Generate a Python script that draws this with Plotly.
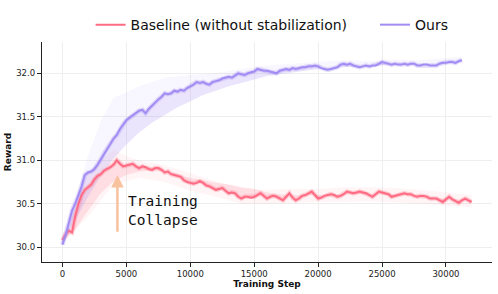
import plotly.graph_objects as go

STEP = 250

baseline_values = [
    30.08, 30.15, 30.19, 30.17, 30.36, 30.50, 30.60, 30.66, 30.69, 30.72,
    30.78, 30.82, 30.84, 30.88, 30.90, 30.92, 30.95, 31.00, 30.96, 30.93,
    30.94, 30.95, 30.96, 30.93, 30.91, 30.93, 30.92, 30.90, 30.89, 30.91,
    30.91, 30.89, 30.86, 30.87, 30.84, 30.83, 30.82, 30.81, 30.77, 30.75,
    30.74, 30.73, 30.74, 30.76, 30.74, 30.71, 30.70, 30.68, 30.66, 30.67,
    30.68, 30.65, 30.62, 30.63, 30.62, 30.58, 30.56, 30.58, 30.58, 30.57,
    30.58, 30.60, 30.62, 30.59, 30.56, 30.58, 30.59, 30.58, 30.56, 30.54,
    30.58, 30.62, 30.57, 30.54, 30.56, 30.59, 30.60, 30.62, 30.64, 30.60,
    30.56, 30.57, 30.59, 30.60, 30.61, 30.60, 30.58, 30.59, 30.61, 30.64,
    30.63, 30.62, 30.63, 30.64, 30.63, 30.62, 30.60, 30.58, 30.61, 30.64,
    30.63, 30.62, 30.61, 30.58, 30.59, 30.60, 30.61, 30.62, 30.61, 30.61,
    30.59, 30.58, 30.59, 30.59, 30.58, 30.56, 30.56, 30.56, 30.54, 30.52,
    30.55, 30.58, 30.55, 30.53, 30.51, 30.54, 30.56, 30.54, 30.52,
]

ours_values = [
    30.03, 30.14, 30.28, 30.42, 30.50, 30.60, 30.70, 30.83, 30.86, 30.87,
    30.90, 30.95, 31.01, 31.08, 31.14, 31.20, 31.25, 31.29, 31.36, 31.41,
    31.46, 31.49, 31.52, 31.54, 31.57, 31.58, 31.54, 31.59, 31.63, 31.67,
    31.70, 31.73, 31.77, 31.76, 31.77, 31.80, 31.79, 31.81, 31.80, 31.83,
    31.85, 31.87, 31.90, 31.89, 31.90, 31.88, 31.87, 31.90, 31.91, 31.92,
    31.94, 31.95, 31.96, 31.95, 31.98, 32.00, 31.99, 31.98, 32.00, 32.01,
    32.02, 32.05, 32.04, 32.03, 32.03, 32.02, 32.01, 32.00, 32.03, 32.04,
    32.05, 32.04, 32.06, 32.05, 32.06, 32.07, 32.07, 32.08, 32.08, 32.09,
    32.08, 32.06, 32.05, 32.04, 32.05, 32.06, 32.07, 32.10, 32.11, 32.10,
    32.11, 32.09, 32.08, 32.07, 32.08, 32.09, 32.08, 32.09, 32.09, 32.11,
    32.13, 32.12, 32.11, 32.10, 32.11, 32.10, 32.10, 32.11, 32.10, 32.11,
    32.11, 32.09, 32.09, 32.10, 32.10, 32.09, 32.09, 32.09, 32.11, 32.12,
    32.12, 32.13, 32.13, 32.12, 32.14, 32.15,
]

baseline_steps = [STEP * i for i in range(len(baseline_values))]
ours_steps = [STEP * i for i in range(len(ours_values))]

# smoothed trend curves (band edges)
baseline_smooth_steps = [1000 * i for i in range(33)]
baseline_smooth = [
    30.06, 30.20, 30.42, 30.62, 30.76, 30.83, 30.87, 30.88, 30.87, 30.84,
    30.80, 30.77, 30.74, 30.72, 30.69, 30.67, 30.63, 30.61, 30.60, 30.60,
    30.60, 30.60, 30.61, 30.61, 30.61, 30.61, 30.60, 30.60, 30.59, 30.57,
    30.56, 30.55, 30.54,
]
ours_smooth_steps = [1000 * i for i in range(32)]
ours_smooth = [
    30.03, 30.30, 30.58, 30.82, 31.02, 31.18, 31.32, 31.43, 31.52, 31.61,
    31.68, 31.75, 31.80, 31.85, 31.89, 31.93, 31.97, 31.99, 32.01, 32.03,
    32.05, 32.06, 32.07, 32.08, 32.08, 32.09, 32.10, 32.10, 32.10, 32.10,
    32.11, 32.12,
]

# faint spread of raw runs (upper / lower envelopes)
ours_upper_steps = [0, 1000, 2000, 3000, 4000, 5000, 6000, 7000, 8000, 10000,
                    12000, 14000, 16000, 18000, 20000, 22000, 24000, 26000,
                    28000, 30000, 31250]
ours_upper = [30.05, 30.55, 31.05, 31.45, 31.72, 31.78, 31.85, 31.90, 31.95,
              31.98, 32.00, 32.05, 32.09, 32.11, 32.13, 32.15, 32.14, 32.16,
              32.15, 32.17, 32.19]
baseline_upper_steps = [0, 1000, 2000, 3000, 4000, 5000, 6000, 7000, 8000,
                        9000, 10000, 12000, 14000, 16000, 18000, 20000, 22000,
                        24000, 26000, 28000, 30000, 32000]
baseline_upper = [30.10, 30.45, 30.85, 31.00, 31.12, 31.05, 31.00, 30.97,
                  30.94, 30.90, 30.85, 30.76, 30.68, 30.66, 30.67, 30.67,
                  30.69, 30.69, 30.68, 30.66, 30.63, 30.60]
baseline_lower_steps = [0, 2000, 4000, 6000, 8000, 10000, 12000, 14000, 16000,
                        20000, 24000, 28000, 32000]
baseline_lower = [30.05, 30.35, 30.72, 30.80, 30.75, 30.65, 30.58, 30.50,
                  30.50, 30.52, 30.53, 30.50, 30.46]

x_ticks = [0, 5000, 10000, 15000, 20000, 25000, 30000]
y_ticks = [30.0, 30.5, 31.0, 31.5, 32.0]

BASE_C = "#FF6B82"
OURS_C = "#A28CF4"
ARROW_C = "#F8C29E"

fig = go.Figure()


def poly(xa, ya, xb, yb, color):
    return go.Scatter(
        x=list(xa) + list(xb)[::-1], y=list(ya) + list(yb)[::-1],
        fill="toself", fillcolor=color, line=dict(width=0),
        mode="lines", hoverinfo="skip", showlegend=False)


fig.add_trace(poly(baseline_upper_steps, baseline_upper, baseline_lower_steps,
                   baseline_lower, "rgba(255,107,130,0.07)"))
fig.add_trace(poly(baseline_steps, baseline_values, baseline_smooth_steps,
                   baseline_smooth, "rgba(255,107,130,0.16)"))
fig.add_trace(poly(ours_upper_steps, ours_upper, ours_smooth_steps,
                   ours_smooth, "rgba(162,140,244,0.08)"))
fig.add_trace(poly(ours_steps, ours_values, ours_smooth_steps,
                   ours_smooth, "rgba(162,140,244,0.16)"))

fig.add_trace(go.Scatter(x=baseline_steps, y=baseline_values, mode="lines",
                         line=dict(color=BASE_C, width=4.5), opacity=0.3,
                         hoverinfo="skip", showlegend=False))
fig.add_trace(go.Scatter(x=baseline_steps, y=baseline_values, mode="lines",
                         name="Baseline (without stabilization)",
                         legend="legend",
                         line=dict(color=BASE_C, width=2)))
fig.add_trace(go.Scatter(x=ours_steps, y=ours_values, mode="lines",
                         line=dict(color=OURS_C, width=4.5), opacity=0.3,
                         hoverinfo="skip", showlegend=False))
fig.add_trace(go.Scatter(x=ours_steps, y=ours_values, mode="lines",
                         name="Ours", legend="legend2",
                         line=dict(color=OURS_C, width=2)))

fig.add_annotation(x=4300, y=30.83, ax=4300, ay=30.16, xref="x", yref="y",
                   axref="x", ayref="y", text="", showarrow=True,
                   arrowhead=2, arrowsize=1, arrowwidth=2.5,
                   arrowcolor=ARROW_C)
fig.add_annotation(x=5000, y=30.42, xref="x", yref="y",
                   text="Training<br>Collapse", showarrow=False,
                   xanchor="left", align="left",
                   font=dict(family="DejaVu Sans Mono", size=14.5,
                             color="#111"))

axis_common = dict(showline=True, linecolor="#222", linewidth=1.3,
                   ticks="outside", ticklen=4, tickcolor="#222",
                   showgrid=True, gridcolor="#EEEEEE", gridwidth=0.8,
                   zeroline=False, mirror=False, automargin=False,
                   tickfont=dict(family="DejaVu Sans", size=8.5, color="#222"))

legend_common = dict(orientation="h", y=1.077, yanchor="middle",
                     xanchor="left", font=dict(size=14),
                     bgcolor="rgba(0,0,0,0)", itemwidth=30)

fig.update_layout(
    width=498, height=294,
    margin=dict(l=42, r=6, t=42, b=32, autoexpand=False),
    paper_bgcolor="white", plot_bgcolor="white",
    font=dict(family="DejaVu Sans", color="#111"),
    legend=dict(x=0.108, **legend_common),
    legend2=dict(x=0.74, **legend_common),
    xaxis=dict(range=[-1600, 33600], tickvals=x_ticks,
               ticktext=[str(v) for v in x_ticks],
               title=dict(text="<b>Training Step</b>", standoff=1,
                          font=dict(size=9)),
               **axis_common),
    yaxis=dict(range=[29.83, 32.36], tickvals=y_ticks,
               ticktext=[f"{v:.1f}" for v in y_ticks],
               title=dict(text="<b>Reward</b>", standoff=3,
                          font=dict(size=9)),
               **axis_common),
)

fig.write_html("out.html",
               config={"displayModeBar": False},
               post_script="document.body.style.margin='0';"
                           "document.body.style.overflow='hidden';")
